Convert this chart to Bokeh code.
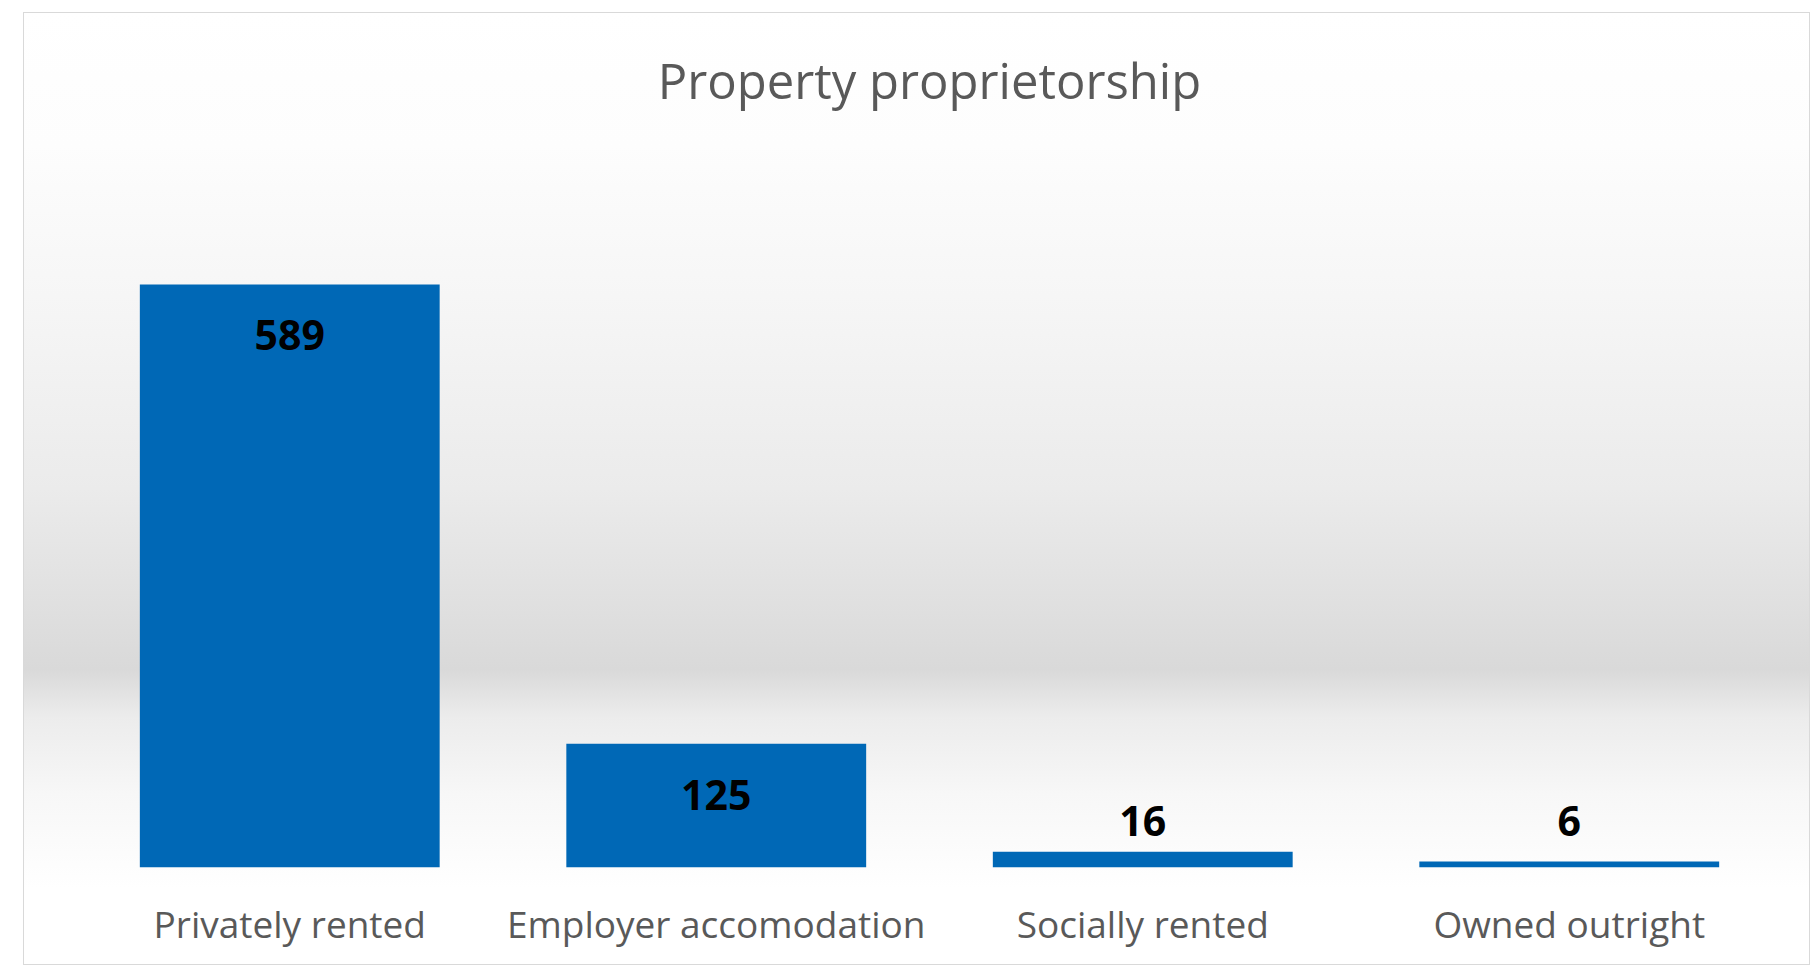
from bokeh.plotting import figure
from bokeh.models import ColumnDataSource, Range1d, FactorRange, Title
from bokeh.core.properties import value
from bokeh.embed import file_html
from bokeh.resources import INLINE

# ---- data ----
categories = ["Privately rented", "Employer accomodation", "Socially rented", "Owned outright"]
counts = [589, 125, 16, 6]
title_text = "Property proprietorship"

# label placement rule: inside the bar end when the bar is tall enough, else above the baseline
inside = [c >= 60 for c in counts]
label_y = [c if ins else 0 for c, ins in zip(counts, inside)]
label_off = [51 if ins else -47 for ins in inside]

src = ColumnDataSource(dict(
    cat=categories,
    count=counts,
    label=[str(c) for c in counts],
    ly=label_y,
    loff=label_off,
))

p = figure(
    x_range=FactorRange(*categories),
    y_range=Range1d(0, 700),
    width=1787, height=953,
    output_backend="svg",
    toolbar_location=None,
    title=title_text,
    y_axis_location=None,
    min_border_left=53, min_border_right=28,
    min_border_top=162, min_border_bottom=98,
)
p.margin = (12, 0, 0, 23)
p.styles = {
    "background": "linear-gradient(to bottom, #ffffff 0%, #fdfdfd 14%, #f5f5f5 32%, "
                  "#ebebeb 50%, #e0e0e0 62%, #d9d9d9 69%, #ececec 74%, #f7f7f7 82%, #ffffff 92%, #ffffff 100%)",
    "outline": "1px solid #d9d9d9",
    "outline-offset": "-1px",
}
p.border_fill_color = None
p.background_fill_color = None
p.outline_line_color = None
p.xgrid.grid_line_color = None
p.ygrid.grid_line_color = None

p.title.align = "center"
p.title.text_font = "Open Sans"
p.title.text_font_style = "normal"
p.title.text_font_size = "49px"
p.title.text_color = "#595959"
p.title.standoff = 10

# blank spacer between the plot area and the title
spacer = Title(text=" ", text_font_size="1px", standoff=54, text_color="#fdfdfd")
p.add_layout(spacer, "above")

ax = p.xaxis[0]
ax.axis_line_color = None
ax.major_tick_line_color = None
ax.minor_tick_line_color = None
ax.major_tick_out = 0
ax.major_tick_in = 0
ax.major_label_standoff = 30
ax.major_label_text_font = "Open Sans"
ax.major_label_text_font_size = "37px"
ax.major_label_text_color = "#595959"

p.vbar(x="cat", top="count", width=0.703, source=src,
       fill_color="#0068b6", line_color=None)

p.text(x="cat", y="ly", text="label", y_offset="loff", source=src,
       text_align="center", text_baseline="middle",
       text_font=value("Open Sans"), text_font_style="bold",
       text_font_size="41px", text_color="black")

open("out.html", "w").write(file_html(p, INLINE))
